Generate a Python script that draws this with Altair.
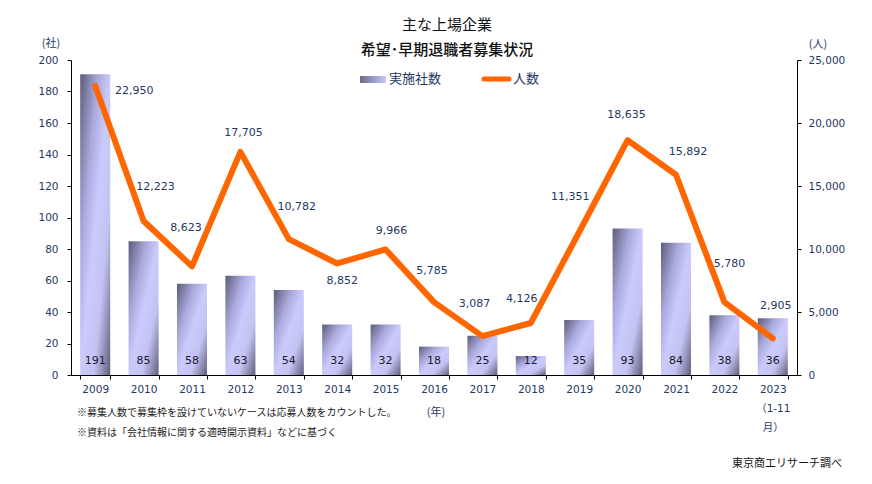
import altair as alt
import pandas as pd

# ---- data ----
years = ["2009", "2010", "2011", "2012", "2013", "2014", "2015", "2016",
         "2017", "2018", "2019", "2020", "2021", "2022", "2023\n（1-11\n月）"]
companies = [191, 85, 58, 63, 54, 32, 32, 18, 25, 12, 35, 93, 84, 38, 36]
people = [22950, 12223, 8623, 17705, 10782, 8852, 9966, 5785, 3087, 4126,
          11351, 18635, 15892, 5780, 2905]

# label offsets (pixels) for the line value labels (style/layout only)
label_dx = [39, 12, -6, 3, 8, 5, 6, -2, -8, -9, -9, -1, 12, 5, 3]
label_dy = [5, -34, -38, -19, -32, 18, -18, -31, -32, -24, -35, -25, -23, -38, -32]

left_ticks = list(range(0, 201, 20))
right_ticks = list(range(0, 25001, 5000))

title_text = "主な上場企業"
subtitle_text = "希望･早期退職者募集状況"
legend_bar = "実施社数"
legend_line = "人数"
left_unit = "(社)"
right_unit = "(人)"
x_unit = "(年)"
note1 = "※募集人数で募集枠を設けていないケースは応募人数をカウントした。"
note2 = "※資料は「会社情報に関する適時開示資料」などに基づく"
source = "東京商エリサーチ調べ"

df = pd.DataFrame({"year": years, "companies": companies, "people": people,
                   "i": list(range(len(years)))})

NUM = "DejaVu Sans, Noto Sans CJK JP"
JP = "Noto Sans CJK JP"
BLUE = "#1f3864"
ORANGE = "#ff6600"

W, H = 726, 315

x_enc = alt.X("year:N", sort=years,
              scale=alt.Scale(paddingInner=0.38, paddingOuter=0.19),
              axis=alt.Axis(title=None, labelAngle=0, tickBand="extent",
                            labelExpr="split(datum.label, '\\n')",
                            labelLineHeight=19, labelPadding=5,
                            labelFontSize=10.5))

left_axis = alt.Axis(title=None, orient="left", values=left_ticks,
                     labelExpr="format(datum.value, 'd')",
                     labelOverlap=False, labelPadding=9)
y_bar = alt.Y("companies:Q", scale=alt.Scale(domain=[0, 200]), axis=left_axis)
y_line = alt.Y("people:Q", scale=alt.Scale(domain=[0, 25000]),
               axis=alt.Axis(title=None, orient="right", values=right_ticks,
                             labelExpr="format(datum.value, ',')",
                             labelOverlap=False, labelPadding=7))

bar_grad = alt.LinearGradient(
    gradient="linear",
    stops=[alt.GradientStop(color="#5c5c7a", offset=0),
           alt.GradientStop(color="#a9a9dc", offset=0.3),
           alt.GradientStop(color="#cacafc", offset=0.5),
           alt.GradientStop(color="#c3c3f3", offset=0.72),
           alt.GradientStop(color="#5e5e7c", offset=1)],
    x1=0, y1=0, x2=1, y2=1)

base = alt.Chart(df)

bars = base.mark_bar(color=bar_grad).encode(x=x_enc, y=y_bar)
bar_text = base.transform_calculate(base0="0").mark_text(
    dy=-14, fontSize=11, font=NUM, color="#1a1a2e", baseline="middle").encode(
    x=x_enc,
    y=alt.Y("base0:Q", scale=alt.Scale(domain=[0, 200]), axis=left_axis),
    text=alt.Text("companies:Q"))
bars_layer = alt.layer(bars, bar_text)

line = base.mark_line(color=ORANGE, strokeWidth=6, strokeCap="round",
                      strokeJoin="round").encode(x=x_enc, y=y_line)
line_labels = []
for i in range(len(years)):
    line_labels.append(
        base.transform_filter(alt.datum.i == i).mark_text(
            dx=label_dx[i], dy=label_dy[i], fontSize=11, font=NUM,
            color=BLUE, baseline="middle").encode(
            x=x_enc, y=y_line, text=alt.Text("people:Q", format=",")))
line_layer = alt.layer(line, *line_labels)


def txt(s, x, y, size, color, align="left", font=JP, weight="normal"):
    return alt.Chart(pd.DataFrame({"t": [s]})).mark_text(
        align=align, baseline="middle", fontSize=size, color=color,
        font=font, fontWeight=weight).encode(
        x=alt.value(x), y=alt.value(y), text="t:N")


legend_rect = alt.Chart(pd.DataFrame({"a": [0]})).mark_rect(
    color=alt.LinearGradient(
        gradient="linear",
        stops=[alt.GradientStop(color="#6a6a88", offset=0),
               alt.GradientStop(color="#cacafc", offset=1)],
        x1=0, y1=0, x2=1, y2=0)).encode(
    x=alt.value(289), x2=alt.value(315), y=alt.value(16), y2=alt.value(23))
legend_rule = alt.Chart(pd.DataFrame({"a": [0]})).mark_rule(
    color=ORANGE, strokeWidth=5, strokeCap="round").encode(
    x=alt.value(413), x2=alt.value(438), y=alt.value(19))

overlays = [
    txt(title_text, 376, -35, 15, "#111111", align="center"),
    txt(subtitle_text, 376, -10, 15, "#111111", align="center", weight=500),
    legend_rect,
    txt(legend_bar, 318, 19, 13, BLUE),
    legend_rule,
    txt(legend_line, 442, 19, 13, BLUE),
    txt(left_unit, -20, -16, 11, BLUE, align="center"),
    txt(right_unit, 747, -15, 11, BLUE, align="center"),
    txt(x_unit, 365, 353, 11, BLUE, align="center"),
    txt(note1, 6, 353, 10, "#222222"),
    txt(note2, 6, 373, 10, "#222222"),
    txt(source, 771, 404, 11, "#111111", align="right"),
]

chart = alt.layer(bars_layer, line_layer, *overlays).resolve_scale(
    y="independent"
).properties(
    width=W, height=H,
    autosize=alt.AutoSizeParams(type="none"),
    padding={"left": 63, "top": 52, "right": 59, "bottom": 97},
).configure_view(stroke=None).configure_axis(
    domainColor="black", tickColor="black", tickSize=4, grid=False,
    labelColor=BLUE, labelFont=NUM, labelFontSize=10.5,
)

chart.save("out.html", embed_options={"renderer": "svg", "actions": False})
